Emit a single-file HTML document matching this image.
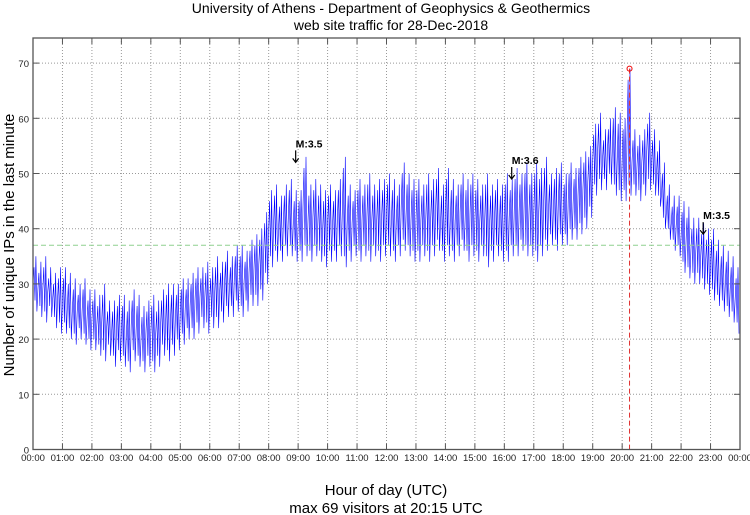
<!DOCTYPE html>
<html><head><meta charset="utf-8"><style>
body{margin:0;background:#fff;}
svg{display:block;font-family:"Liberation Sans",sans-serif;}
</style></head><body>
<svg id="chart" width="750" height="515">
<text x="391" y="13" font-size="14" text-anchor="middle">University of Athens - Department of Geophysics &amp; Geothermics</text>
<text x="391" y="30" font-size="14" text-anchor="middle">web site traffic for 28-Dec-2018</text>
<text transform="translate(14,245) rotate(-90)" font-size="15" text-anchor="middle">Number of unique IPs in the last minute</text>
<text x="386" y="495" font-size="15" text-anchor="middle">Hour of day (UTC)</text>
<text x="386" y="513" font-size="15" text-anchor="middle">max 69 visitors at 20:15 UTC</text>
<g id="grid"></g><g id="series"></g><g id="overlay"></g><g id="axes"></g>
</svg>
<script>
const hourLabels=["00:00","01:00","02:00","03:00","04:00","05:00","06:00","07:00","08:00","09:00","10:00","11:00","12:00","13:00","14:00","15:00","16:00","17:00","18:00","19:00","20:00","21:00","22:00","23:00","00:00"];
const yTicks=[0,10,20,30,40,50,60,70];
const binLow=[25,24,23,24,22,21, 21,20,19,20,19,18, 18,17,16,17,15,16, 15,14,16,15,14,15, 14,15,17,16,17,18, 19,20,20,21,22,21, 22,22,23,24,24,25, 24,25,26,26,27,30, 33,34,34,35,35,34, 34,35,34,35,34,33, 34,34,35,33,34,35, 34,35,34,35,34,35, 35,34,35,36,35,34, 34,35,34,35,36,34, 35,34,35,36,34,35, 34,35,33,34,35,34, 34,35,35,36,35,35, 34,35,36,37,36,37, 37,38,38,39,40,42, 46,47,47,48,46,45, 45,46,46,45,46,47, 46,44,40,38,36,35, 32,31,30,30,29,28, 27,26,25,24,23,21];
const binHigh=[35,34,35,33,32,33, 33,32,31,30,31,29, 29,28,30,27,27,28, 28,27,29,28,26,27, 28,27,29,30,30,30, 31,31,32,33,33,34, 33,35,34,36,35,37, 37,36,38,39,40,43, 47,48,46,48,49,47, 47,53,48,49,48,47, 48,47,49,53,48,47, 49,48,50,48,49,49, 50,49,48,52,50,49, 49,48,50,49,51,48, 51,49,48,50,49,50, 49,48,50,48,49,48, 50,49,51,50,52,50, 52,51,53,50,51,52, 50,52,51,53,54,55, 59,61,58,60,62,61, 60,69,58,57,58,61, 58,56,52,48,46,46, 45,44,42,42,41,40, 40,38,37,36,35,33];
const avgLine=37;
const maxVal=69, maxMinute=1215;
const quakeLabels=["M:3.5","M:3.6","M:3.5"];
const quakeMinutes=[535,975,1365];
const quakeValues=[54,51,41];

const X0=33,X1=740,Y0=449.5,PERU=5.52,YTOP=38;
const xs=m=>X0+(X1-X0)*m/1440;
const ys=v=>Y0-v*PERU;
const NS="http://www.w3.org/2000/svg";
function mk(p,t,a){const e=document.createElementNS(NS,t);for(const k in a)e.setAttribute(k,a[k]);p.appendChild(e);return e;}
const grid=document.getElementById('grid'),axes=document.getElementById('axes'),ser=document.getElementById('series'),ov=document.getElementById('overlay');
hourLabels.forEach((l,i)=>{const x=xs(i*60);
 if(i>0&&i<24){const g=mk(grid,'line',{x1:x,x2:x,y1:YTOP,y2:Y0,stroke:'#999','stroke-dasharray':'1,2','stroke-width':1});
 
 const t1=mk(axes,'line',{x1:x,x2:x,y1:Y0,y2:Y0-6,stroke:'#555'});
 const t2=mk(axes,'line',{x1:x,x2:x,y1:YTOP,y2:YTOP+6,stroke:'#555'});}
 const t=mk(axes,'text',{x:x,y:461,'font-size':9.5,'text-anchor':'middle',fill:'#222'});t.textContent=l;
 });
yTicks.forEach(v=>{const y=ys(v);
 if(v>0){const g=mk(grid,'line',{x1:X0,x2:X1,y1:y,y2:y,stroke:'#999','stroke-dasharray':'1,2'});
 const tk=mk(axes,'line',{x1:X0,x2:X0+6,y1:y,y2:y,stroke:'#555'});
 const tk2=mk(axes,'line',{x1:X1,x2:X1-6,y1:y,y2:y,stroke:'#555'});}
 const t=mk(axes,'text',{x:29,y:y+4,'font-size':9.5,'text-anchor':'end',fill:'#222'});t.textContent=v;
 });
const fr=mk(axes,'rect',{x:X0,y:YTOP,width:X1-X0,height:Y0-YTOP,fill:'none',stroke:'#555','stroke-width':1.3});

let d='';const n=binLow.length;
for(let i=0;i<n;i++){const lo=binLow[i],hi=binHigh[i],mid=(lo+hi)/2;
 const pts=[[0,mid],[0.2,hi-2],[0.4,lo+2],[0.6,hi],[0.8,lo]];
 pts.forEach(([f,v])=>{d+=(d?'L':'M')+xs((i+f)*10).toFixed(1)+','+ys(v).toFixed(1);});}
const p=mk(ser,'path',{d:d,fill:'none',stroke:'#0000ff','stroke-width':0.6});

const al=mk(ov,'line',{x1:X0,x2:X1,y1:ys(avgLine),y2:ys(avgLine),stroke:'#8fd08f','stroke-dasharray':'5,3'});

const ml=mk(ov,'line',{x1:xs(maxMinute),x2:xs(maxMinute),y1:ys(maxVal),y2:Y0,stroke:'#e03030','stroke-dasharray':'5,3'});

const mc=mk(ov,'circle',{cx:xs(maxMinute),cy:ys(maxVal),r:2.5,fill:'none',stroke:'#e00'});

quakeLabels.forEach((l,i)=>{const x=xs(quakeMinutes[i]),y=ys(quakeValues[i]);
 const a=mk(ov,'path',{d:`M${x},${y-1}L${x},${y+11}M${x-3},${y+7}L${x},${y+11}L${x+3},${y+7}`,stroke:'#000','stroke-width':1.2,fill:'none'});
 
 const t=mk(ov,'text',{x:x,y:y-4,'font-size':10.5,'font-weight':'bold'});t.textContent=l;
 });
</script>
</body></html>
